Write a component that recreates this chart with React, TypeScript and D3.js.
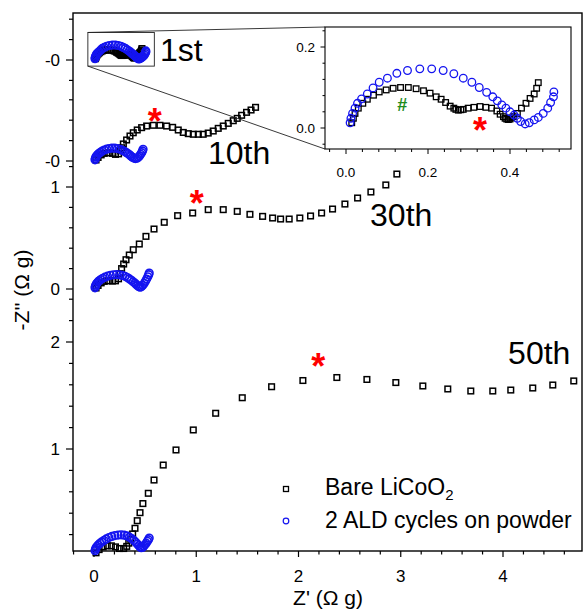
import React, { useRef, useEffect } from 'react';
import * as d3 from 'd3';

type Pt = [number, number];

// Z' and -Z'' (ohm g), one pair of series per cycle
const bare1st: Pt[] = [
  [0.014, 0.013], [0.018, 0.024], [0.022, 0.036], [0.030, 0.049], [0.041, 0.061], [0.052, 0.071],
  [0.067, 0.081], [0.081, 0.089], [0.098, 0.094], [0.115, 0.098], [0.133, 0.100], [0.152, 0.100],
  [0.171, 0.097], [0.189, 0.092], [0.205, 0.086], [0.220, 0.077], [0.232, 0.071], [0.243, 0.063],
  [0.254, 0.054], [0.263, 0.049], [0.268, 0.046], [0.274, 0.044], [0.280, 0.045], [0.286, 0.046],
  [0.298, 0.049], [0.312, 0.051], [0.327, 0.053], [0.341, 0.051], [0.355, 0.049], [0.368, 0.042],
  [0.376, 0.034], [0.384, 0.028], [0.388, 0.024], [0.392, 0.022], [0.396, 0.021], [0.400, 0.022],
  [0.404, 0.025], [0.408, 0.028], [0.418, 0.036], [0.428, 0.049], [0.439, 0.061], [0.449, 0.073],
  [0.459, 0.084], [0.465, 0.098], [0.469, 0.112],
];
const ald1st: Pt[] = [
  [0.010, 0.013], [0.012, 0.024], [0.016, 0.036], [0.022, 0.049], [0.028, 0.061], [0.038, 0.072],
  [0.052, 0.084], [0.066, 0.099], [0.081, 0.113], [0.101, 0.123], [0.124, 0.135], [0.150, 0.142],
  [0.180, 0.146], [0.209, 0.146], [0.237, 0.142], [0.263, 0.134], [0.286, 0.123], [0.307, 0.113],
  [0.325, 0.100], [0.343, 0.088], [0.358, 0.077], [0.369, 0.067], [0.380, 0.057], [0.390, 0.049],
  [0.400, 0.040], [0.410, 0.032], [0.418, 0.024], [0.426, 0.016], [0.437, 0.010], [0.447, 0.013],
  [0.459, 0.020], [0.469, 0.026], [0.481, 0.036], [0.492, 0.049], [0.499, 0.063], [0.506, 0.077],
  [0.507, 0.089],
];
const bare10th: Pt[] = [
  [0.02, 0.01], [0.04, 0.035], [0.07, 0.06], [0.10, 0.075], [0.14, 0.08], [0.18, 0.075], [0.21, 0.065],
  [0.24, 0.07], [0.26, 0.10], [0.272, 0.13], [0.287, 0.167], [0.319, 0.206], [0.352, 0.245],
  [0.384, 0.277], [0.423, 0.304], [0.466, 0.327], [0.515, 0.343], [0.580, 0.350], [0.645, 0.350],
  [0.710, 0.343], [0.769, 0.330], [0.824, 0.304], [0.873, 0.280], [0.922, 0.268], [0.971, 0.262],
  [1.020, 0.262], [1.068, 0.262], [1.117, 0.274], [1.166, 0.294], [1.215, 0.320], [1.264, 0.343],
  [1.313, 0.369], [1.362, 0.395], [1.401, 0.418], [1.444, 0.448], [1.492, 0.477], [1.536, 0.500],
  [1.580, 0.526],
];
const ald10th: Pt[] = [
  [0.010, 0.012], [0.013, 0.025], [0.018, 0.038], [0.025, 0.050], [0.035, 0.062], [0.048, 0.074],
  [0.063, 0.086], [0.080, 0.097], [0.100, 0.107], [0.123, 0.116], [0.148, 0.122], [0.175, 0.126],
  [0.203, 0.126], [0.230, 0.122], [0.255, 0.115], [0.278, 0.105], [0.300, 0.094], [0.318, 0.082],
  [0.335, 0.070], [0.350, 0.058], [0.363, 0.047], [0.376, 0.037], [0.390, 0.029], [0.405, 0.024],
  [0.420, 0.027], [0.433, 0.036], [0.445, 0.050], [0.456, 0.066], [0.466, 0.082], [0.474, 0.099],
  [0.480, 0.115],
];
const bare30th: Pt[] = [
  [0.02, 0.01], [0.04, 0.035], [0.07, 0.06], [0.10, 0.075], [0.14, 0.08], [0.18, 0.078], [0.21, 0.08],
  [0.24, 0.10], [0.255, 0.15], [0.27, 0.20], [0.29, 0.245], [0.313, 0.287], [0.345, 0.333],
  [0.384, 0.385], [0.443, 0.441], [0.508, 0.516], [0.587, 0.588], [0.687, 0.654], [0.818, 0.719],
  [0.965, 0.745], [1.117, 0.778], [1.264, 0.778], [1.401, 0.761], [1.525, 0.732], [1.649, 0.712],
  [1.747, 0.696], [1.825, 0.686], [1.909, 0.686], [2.013, 0.696], [2.118, 0.716], [2.226, 0.745],
  [2.333, 0.784], [2.454, 0.833], [2.578, 0.892], [2.708, 0.951], [2.854, 1.020], [2.962, 1.127],
];
const ald30th: Pt[] = [
  [0.010, 0.012], [0.013, 0.026], [0.018, 0.040], [0.026, 0.054], [0.036, 0.067], [0.050, 0.080],
  [0.066, 0.093], [0.085, 0.105], [0.107, 0.116], [0.132, 0.126], [0.160, 0.134], [0.190, 0.139],
  [0.220, 0.141], [0.250, 0.139], [0.278, 0.133], [0.303, 0.124], [0.326, 0.112], [0.347, 0.099],
  [0.366, 0.085], [0.383, 0.071], [0.399, 0.058], [0.413, 0.045], [0.427, 0.033], [0.440, 0.023],
  [0.452, 0.018], [0.465, 0.024], [0.477, 0.037], [0.490, 0.055], [0.503, 0.075], [0.515, 0.097],
  [0.526, 0.120], [0.535, 0.140], [0.540, 0.157],
];
const bare50th: Pt[] = [
  [0.02, 0.03], [0.05, 0.06], [0.09, 0.085], [0.13, 0.095], [0.17, 0.095], [0.21, 0.085], [0.25, 0.07],
  [0.29, 0.07], [0.32, 0.09], [0.34, 0.12], [0.359, 0.156], [0.378, 0.206], [0.401, 0.259],
  [0.423, 0.330], [0.450, 0.405], [0.478, 0.490], [0.531, 0.586], [0.587, 0.710], [0.677, 0.850],
  [0.802, 0.991], [0.971, 1.178], [1.190, 1.334], [1.450, 1.479], [1.737, 1.582], [2.043, 1.640],
  [2.375, 1.668], [2.669, 1.650], [2.952, 1.621], [3.216, 1.589], [3.460, 1.561], [3.685, 1.542],
  [3.900, 1.542], [4.076, 1.551], [4.291, 1.570], [4.487, 1.598], [4.692, 1.636],
];
const ald50th: Pt[] = [
  [0.010, 0.050], [0.014, 0.063], [0.020, 0.077], [0.030, 0.090], [0.043, 0.104], [0.058, 0.118],
  [0.076, 0.132], [0.097, 0.146], [0.120, 0.160], [0.146, 0.172], [0.174, 0.183], [0.204, 0.191],
  [0.235, 0.196], [0.265, 0.198], [0.295, 0.195], [0.322, 0.188], [0.347, 0.176], [0.370, 0.162],
  [0.390, 0.146], [0.408, 0.129], [0.424, 0.112], [0.438, 0.097], [0.450, 0.085], [0.462, 0.078],
  [0.474, 0.080], [0.486, 0.090], [0.498, 0.104], [0.510, 0.120], [0.522, 0.137], [0.532, 0.153],
  [0.540, 0.168],
];

const cycleNames = ['1st', '10th', '30th', '50th'];
const zeroLabels = ['-0', '-0', '0', '0'];
const legendNames = ['Bare LiCoO', '2 ALD cycles on powder'];
const xMajorTicks = [0, 1, 2, 3, 4];
const insetXLabels = [0, 0.2, 0.4];
const insetYLabels = [0, 0.2];

const W = 584;
const H = 616;
const FONT = "'Liberation Sans', Arial, sans-serif";
const BLUE = '#1414f0';

const App = () => {
  const svgRef = useRef<SVGSVGElement>(null);

  useEffect(() => {
    const svg = d3.select(svgRef.current);
    svg.selectAll('*').remove();

    const left = 73, right = 582, top = 13, bottom = 551;
    const x = d3.scaleLinear().domain([0, 4]).range([94, 503]);

    // stacked cycles: each owns a strip of the y axis with its own offset scale
    const panels = [
      { y: d3.scaleLinear().domain([0, 1]).range([60, -42]), strip: [13, 90], bare: bare1st, ald: ald1st, lab: [0.645, -0.01], star: null },
      { y: d3.scaleLinear().domain([0, 1]).range([161, 59]), strip: [90, 163], bare: bare10th, ald: ald10th, lab: [1.114, -0.03], star: [0.594, 0.468] },
      { y: d3.scaleLinear().domain([0, 1]).range([289, 187]), strip: [163, 293], bare: bare30th, ald: ald30th, lab: [2.70, 0.62], star: [1.004, 0.92] },
      { y: d3.scaleLinear().domain([0, 1]).range([556, 449]), strip: [293, 552], bare: bare50th, ald: ald50th, lab: [4.05, 1.79], star: [2.194, 1.848] },
    ];

    const g = svg.append('g');

    // frame
    g.append('rect')
      .attr('x', left).attr('y', top)
      .attr('width', right - left).attr('height', bottom - top)
      .attr('fill', 'none').attr('stroke', '#000').attr('stroke-width', 1.4);

    // x ticks
    const xt = d3.range(-1, 24).map(i => i * 0.2);
    g.selectAll('.xt').data(xt).enter().append('line')
      .attr('x1', d => x(d)).attr('x2', d => x(d))
      .attr('y1', bottom).attr('y2', d => bottom + (Math.abs(d - Math.round(d)) < 1e-6 ? 6 : 3.5))
      .attr('stroke', '#000').attr('stroke-width', 1.2);
    g.selectAll('.xl').data(xMajorTicks).enter().append('text')
      .attr('x', d => x(d)).attr('y', 582)
      .attr('text-anchor', 'middle').attr('font-family', FONT).attr('font-size', 17)
      .text(d => d);

    // y ticks per strip
    panels.forEach((p, i) => {
      const lo = p.y.invert(p.strip[1]);
      const hi = p.y.invert(p.strip[0]);
      const vals = d3.range(Math.ceil(lo / 0.2 - 1e-6), Math.floor(hi / 0.2 + 1e-6) + 1)
        .map(k => +(k * 0.2).toFixed(3))
        .filter(v => p.y(v) >= p.strip[0] && p.y(v) < p.strip[1]);
      vals.forEach(v => {
        const major = Math.abs(v - Math.round(v)) < 1e-6;
        g.append('line')
          .attr('x1', left).attr('x2', left - (major ? 7 : 4))
          .attr('y1', p.y(v)).attr('y2', p.y(v))
          .attr('stroke', '#000').attr('stroke-width', 1.2);
        if (major) {
          g.append('text')
            .attr('x', 60).attr('y', p.y(v))
            .attr('dy', '0.36em')
            .attr('text-anchor', 'end').attr('font-family', FONT).attr('font-size', 17)
            .text(v === 0 ? zeroLabels[i] : String(Math.round(v)));
        }
      });
    });

    // data
    const sq = 5.6;
    panels.forEach(p => {
      g.append('g').selectAll('rect').data(p.bare).enter().append('rect')
        .attr('x', d => x(d[0]) - sq / 2).attr('y', d => p.y(d[1]) - sq / 2)
        .attr('width', sq).attr('height', sq)
        .attr('fill', 'none').attr('stroke', '#000').attr('stroke-width', 1.5);
      g.append('g').selectAll('circle').data(p.ald).enter().append('circle')
        .attr('cx', d => x(d[0])).attr('cy', d => p.y(d[1])).attr('r', 3.8)
        .attr('fill', 'none').attr('stroke', BLUE).attr('stroke-width', 1.6);
    });

    // cycle labels and stars
    panels.forEach((p, i) => {
      g.append('text')
        .attr('x', x(p.lab[0])).attr('y', p.y(p.lab[1]))
        .attr('font-family', FONT).attr('font-size', 32)
        .text(cycleNames[i]);
      if (p.star) {
        g.append('text')
          .attr('x', x(p.star[0])).attr('y', p.y(p.star[1]) + 0.58 * 36)
          .attr('text-anchor', 'middle').attr('font-family', FONT)
          .attr('font-weight', 'bold').attr('font-size', 36).attr('fill', '#ff0000')
          .text('*');
      }
    });

    // zoom box around 1st cycle + connector lines to inset
    const p1 = panels[0];
    const bx0 = x(-0.06), bx1 = x(0.59), by0 = p1.y(0.27), by1 = p1.y(-0.06);
    const ix0 = 325, ix1 = 571, iy0 = 27, iy1 = 149;
    g.append('rect')
      .attr('x', bx0).attr('y', by0).attr('width', bx1 - bx0).attr('height', by1 - by0)
      .attr('fill', 'none').attr('stroke', '#222').attr('stroke-width', 0.9);
    g.append('line').attr('x1', bx0).attr('y1', by0).attr('x2', ix0).attr('y2', iy0)
      .attr('stroke', '#222').attr('stroke-width', 0.9);
    g.append('line').attr('x1', bx0).attr('y1', by1).attr('x2', ix0).attr('y2', iy1)
      .attr('stroke', '#222').attr('stroke-width', 0.9);

    // inset
    const xi = d3.scaleLinear().domain([0, 0.4]).range([346, 510]);
    const yi = d3.scaleLinear().domain([0, 0.2]).range([128, 47]);
    const ins = g.append('g');
    ins.append('rect')
      .attr('x', ix0).attr('y', iy0).attr('width', ix1 - ix0).attr('height', iy1 - iy0)
      .attr('fill', '#fff').attr('stroke', '#000').attr('stroke-width', 1.1);
    const ixt = d3.range(-1, 14).map(k => +(k * 0.04).toFixed(3));
    ins.selectAll('.ixt').data(ixt).enter().append('line')
      .attr('x1', d => xi(d)).attr('x2', d => xi(d))
      .attr('y1', iy1).attr('y2', d => iy1 + (insetXLabels.includes(d) ? 5 : 3))
      .attr('stroke', '#000').attr('stroke-width', 1);
    ins.selectAll('.ixl').data(insetXLabels).enter().append('text')
      .attr('x', d => xi(d)).attr('y', 177)
      .attr('text-anchor', 'middle').attr('font-family', FONT).attr('font-size', 13.5)
      .text(d => d.toFixed(1));
    const iyt = d3.range(-1, 7).map(k => +(k * 0.04).toFixed(3));
    ins.selectAll('.iyt').data(iyt).enter().append('line')
      .attr('x1', ix0).attr('x2', d => ix0 - (insetYLabels.includes(d) ? 4.5 : 2.5))
      .attr('y1', d => yi(d)).attr('y2', d => yi(d))
      .attr('stroke', '#000').attr('stroke-width', 1);
    ins.selectAll('.iyl').data(insetYLabels).enter().append('text')
      .attr('x', 315).attr('y', d => yi(d)).attr('dy', '0.36em')
      .attr('text-anchor', 'end').attr('font-family', FONT).attr('font-size', 13.5)
      .text(d => d.toFixed(1));
    ins.append('g').selectAll('rect').data(bare1st).enter().append('rect')
      .attr('x', d => xi(d[0]) - sq / 2).attr('y', d => yi(d[1]) - sq / 2)
      .attr('width', sq).attr('height', sq)
      .attr('fill', 'none').attr('stroke', '#000').attr('stroke-width', 1.3);
    ins.append('g').selectAll('circle').data(ald1st).enter().append('circle')
      .attr('cx', d => xi(d[0])).attr('cy', d => yi(d[1])).attr('r', 3.8)
      .attr('fill', 'none').attr('stroke', BLUE).attr('stroke-width', 1.3);
    ins.append('text')
      .attr('x', xi(0.137)).attr('y', yi(0.059) + 6.5)
      .attr('text-anchor', 'middle').attr('font-family', FONT)
      .attr('font-weight', 'bold').attr('font-size', 18).attr('fill', '#1e8c1e')
      .text('#');
    ins.append('text')
      .attr('x', xi(0.327)).attr('y', yi(0.0156) + 0.58 * 36)
      .attr('text-anchor', 'middle').attr('font-family', FONT)
      .attr('font-weight', 'bold').attr('font-size', 36).attr('fill', '#ff0000')
      .text('*');

    // legend
    const leg = g.append('g').attr('font-family', FONT).attr('font-size', 23);
    leg.append('rect').attr('x', 286 - 2.5).attr('y', 489 - 2.5).attr('width', 5).attr('height', 5)
      .attr('fill', 'none').attr('stroke', '#000').attr('stroke-width', 1.3);
    leg.append('circle').attr('cx', 286).attr('cy', 521).attr('r', 2.8)
      .attr('fill', 'none').attr('stroke', BLUE).attr('stroke-width', 1.2);
    const t1 = leg.append('text').attr('x', 325).attr('y', 495);
    t1.append('tspan').text(legendNames[0]);
    t1.append('tspan').attr('font-size', 15).attr('dy', 5).text('2');
    leg.append('text').attr('x', 325).attr('y', 528).text(legendNames[1]);

    // axis titles
    g.append('text')
      .attr('x', 328).attr('y', 605)
      .attr('text-anchor', 'middle').attr('font-family', FONT).attr('font-size', 21)
      .text("Z' (\u03A9 g)");
    g.append('text')
      .attr('transform', 'translate(29,290) rotate(-90)')
      .attr('text-anchor', 'middle').attr('font-family', FONT).attr('font-size', 21)
      .text("-Z'' (\u03A9 g)");
  }, []);

  return (
    <svg ref={svgRef} width={W} height={H}
      style={{ position: 'absolute', left: 0, top: 0, background: '#fff' }} />
  );
};

export default App;
